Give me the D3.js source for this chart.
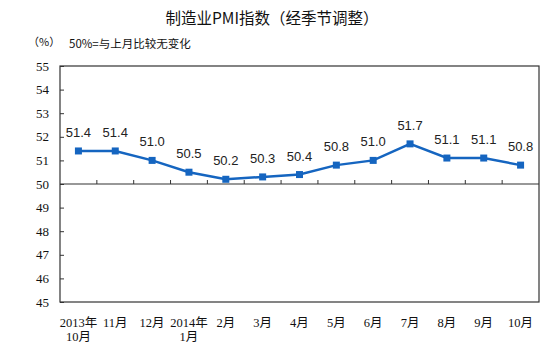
<!DOCTYPE html>
<html><head><meta charset="utf-8">
<script src="https://cdn.jsdelivr.net/npm/d3@7"></script>
<style>body{margin:0;background:#fff}svg{display:block}</style>
</head><body>
<svg id="c" width="543" height="355"></svg>
<script>
const categories = [["2013年","10月"],["11月"],["12月"],["2014年","1月"],["2月"],["3月"],["4月"],["5月"],["6月"],["7月"],["8月"],["9月"],["10月"]];
const values = [51.4,51.4,51.0,50.5,50.2,50.3,50.4,50.8,51.0,51.7,51.1,51.1,50.8];
const yTicks = [45,46,47,48,49,50,51,52,53,54,55];
const title = "制造业PMI指数（经季节调整）";
const unitLabel = "（%）";
const note = "50%=与上月比较无变化";

const svg = d3.select("#c");
const L=60,R=539,T=66,B=302;
const x = d3.scaleBand().domain(d3.range(categories.length)).range([L,R]);
const y = d3.scaleLinear().domain([45,55]).range([B,T]);
const serif = "'Liberation Serif','Noto Sans CJK SC',serif";
const cjk = "'Noto Sans CJK SC',sans-serif";

svg.append("text").attr("x",272).attr("y",24).attr("text-anchor","middle")
  .attr("font-family",cjk).attr("font-size",15.5).attr("fill","#111").text(title);
svg.append("text").attr("x",28).attr("y",46).attr("font-family",cjk).attr("font-size",11).attr("fill","#111").text(unitLabel);
svg.append("text").attr("x",69).attr("y",48).attr("font-family",cjk).attr("font-size",11.5).attr("fill","#111").text(note);

// frame
svg.append("rect").attr("x",L).attr("y",T).attr("width",R-L).attr("height",B-T)
  .attr("fill","none").attr("stroke","#333").attr("stroke-width",1.2);

// y axis
const ya = svg.append("g").attr("transform",`translate(${L},0)`)
  .call(d3.axisLeft(y).tickValues(yTicks).tickSize(-4).tickPadding(11).tickFormat(d3.format("d")));
ya.select(".domain").remove();
ya.selectAll("line").attr("stroke","#333");
ya.selectAll("text").attr("font-family",serif).attr("font-size",13).attr("fill","#111");

// baseline at 50 with category boundary ticks
const y50 = y(50);
svg.append("line").attr("x1",L).attr("x2",R).attr("y1",y50).attr("y2",y50).attr("stroke","#333").attr("stroke-width",1.2);
svg.append("g").selectAll("line").data(d3.range(1,categories.length)).join("line")
  .attr("x1",i=>x(i)).attr("x2",i=>x(i)).attr("y1",y50).attr("y2",y50-4).attr("stroke","#333");

// x labels
const xl = svg.append("g").selectAll("text").data(categories).join("text")
  .attr("x",(d,i)=>x(i)+x.bandwidth()/2).attr("y",327).attr("text-anchor","middle")
  .attr("font-family",serif).attr("font-size",12.5).attr("fill","#111");
xl.each(function(d){
  const t=d3.select(this);
  d.forEach((s,j)=>t.append("tspan").attr("x",t.attr("x")).attr("dy",j?13.5:0).text(s));
});

// line
const color="#1565c0";
const cx=i=>x(i)+x.bandwidth()/2;
svg.append("path").datum(values)
  .attr("d",d3.line().x((d,i)=>cx(i)).y(d=>y(d)))
  .attr("fill","none").attr("stroke",color).attr("stroke-width",2.5);
svg.append("g").selectAll("rect").data(values).join("rect")
  .attr("x",(d,i)=>cx(i)-3.5).attr("y",d=>y(d)-3.5).attr("width",7).attr("height",7).attr("fill",color);
svg.append("g").selectAll("text").data(values).join("text")
  .attr("x",(d,i)=>cx(i)).attr("y",d=>y(d)-14).attr("text-anchor","middle")
  .attr("font-family","'Liberation Sans',Arial,sans-serif").attr("font-size",13).attr("fill","#222")
  .text(d=>d.toFixed(1));
</script>
</body></html>
